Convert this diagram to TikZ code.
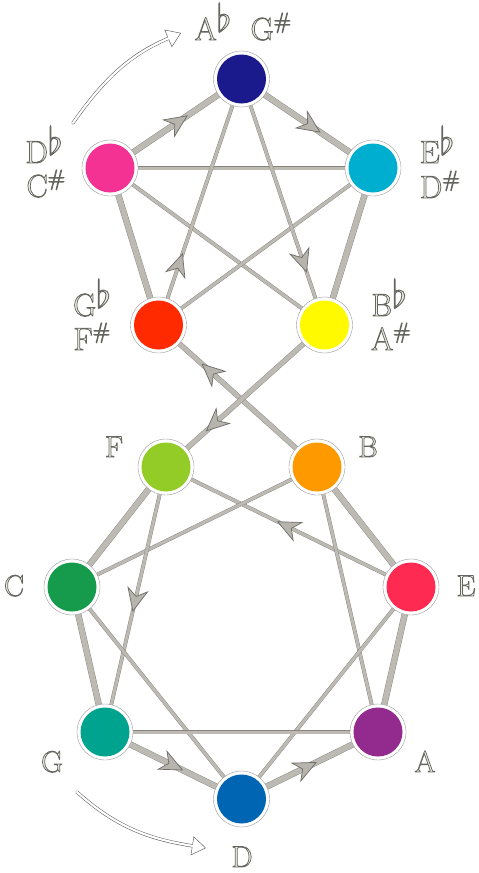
\documentclass[tikz,border=0pt]{standalone}
\usepackage{fix-cm}
\usepackage{graphicx}
\usetikzlibrary{arrows.meta,decorations.markings,backgrounds}
\definecolor{edgegray}{HTML}{BCBAB3}
\definecolor{edgedark}{HTML}{85847E}
\definecolor{headfill}{HTML}{B6B4AD}
\definecolor{headdark}{HTML}{6E6D68}
\definecolor{labfill}{HTML}{EDEDE6}
\definecolor{cAb}{HTML}{1A1A8C}
\definecolor{cDb}{HTML}{F43294}
\definecolor{cEb}{HTML}{00AECF}
\definecolor{cGb}{HTML}{FF2A00}
\definecolor{cBb}{HTML}{FFFA00}
\definecolor{cF}{HTML}{93CC26}
\definecolor{cB}{HTML}{FF9900}
\definecolor{cC}{HTML}{169B4C}
\definecolor{cE}{HTML}{FF2A52}
\definecolor{cG}{HTML}{00A38D}
\definecolor{cA}{HTML}{932A8D}
\definecolor{cD}{HTML}{0066B3}
\newcommand\outl[1]{\special{pdf:literal direct 2 Tr 0.75 w 0.40 0.40 0.38 RG}#1\special{pdf:literal direct 0 Tr}}
\newcommand\flt{\raisebox{0.26em}{\scalebox{1.2}{$\flat$}}}
\newcommand\shp{$^{\#}$}
\tikzset{
  notecirc/.style={circle, minimum size=56pt, inner sep=0pt, fill=white, draw=gray!80, line width=0.4pt,
    path picture={\fill[fill=#1] (path picture bounding box.center) circle (24.5pt);}},
  lab/.style={anchor=base, inner sep=0pt, text=labfill, font=\fontsize{30}{32}\selectfont},
  labbig/.style={lab, font=\fontsize{32}{34}\selectfont},
  ln/.style={draw=edgegray, line width=#1, preaction={draw=edgedark, line width=#1+0.8pt}},
  marr/.style={postaction={decorate, decoration={markings, mark=at position #1 with
    {\filldraw[fill=headfill, draw=headdark, line width=0.7pt, line join=miter]
      (1pt,0pt) -- (-21pt,10pt) -- (-14pt,0pt) -- (-21pt,-10pt) -- cycle;}}}},
  curvarr/.style={draw=white, line width=2.2pt, line cap=round, shorten >=12.5pt,
    preaction={draw=black!65, line width=3.2pt, line cap=round, shorten >=0pt,
      -{Triangle[length=14pt,width=19pt,fill=white,color=black!65,line width=0.45pt]}}}
}
\begin{document}
\begin{tikzpicture}[x=1pt,y=1pt]
\useasboundingbox (0,0) rectangle (479,-873);
% nodes
\node[notecirc=cAb] (Ab) at (241.5,-79) {};
\node[notecirc=cDb] (Db) at (110,-168) {};
\node[notecirc=cEb] (Eb) at (373,-168) {};
\node[notecirc=cGb] (Gb) at (158.5,-325) {};
\node[notecirc=cBb] (Bb) at (324.5,-325) {};
\node[notecirc=cF] (F) at (166,-467) {};
\node[notecirc=cB] (B) at (317,-467) {};
\node[notecirc=cC] (C) at (72,-587) {};
\node[notecirc=cE] (E) at (411,-587) {};
\node[notecirc=cG] (G) at (105,-732) {};
\node[notecirc=cA] (A) at (378,-732) {};
\node[notecirc=cD] (D) at (241.5,-799) {};
% labels
\node[labbig] (lAb) at (213,-40) {\outl{A\flt}};
\node[labbig] (lGs) at (271,-40) {\outl{G\shp}};
\node[labbig] (lDb) at (44,-163) {\outl{D\flt}};
\node[labbig] (lCs) at (46,-197) {\outl{C\shp}};
\node[labbig] (lEb) at (437,-163) {\outl{E\flt}};
\node[labbig] (lDs) at (440,-198) {\outl{D\shp}};
\node[labbig] (lGb) at (92,-316) {\outl{G\flt}};
\node[labbig] (lFs) at (92,-350) {\outl{F\shp}};
\node[labbig] (lBb) at (389,-316) {\outl{B\flt}};
\node[labbig] (lAs) at (391,-350) {\outl{A\shp}};
\node[lab] (lF) at (114,-457) {\outl{F}};
\node[lab] (lB) at (368,-457) {\outl{B}};
\node[lab] (lC) at (14,-596) {\outl{C}};
\node[lab] (lE) at (466,-596) {\outl{E}};
\node[lab] (lG) at (52,-772) {\outl{G}};
\node[lab] (lA) at (425,-772) {\outl{A}};
\node[lab] (lD) at (242,-867) {\outl{D}};
% curved arrows
\coordinate (ta1) at (73,-123);
\coordinate (ta2) at (181,-33);
\coordinate (ba1) at (77,-792);
\coordinate (ba2) at (206,-848);
\draw[curvarr] (ta1) to[out=55,in=203] (ta2);
\draw[curvarr] (ba1) to[out=-42,in=171] (ba2);
% edges
\begin{scope}[on background layer]
\fill[white] (0,0) rectangle (479,-873);
\draw[ln=3pt] (Db.center) -- (Eb.center);
\draw[ln=3pt] (Db.center) -- (Bb.center);
\draw[ln=3pt] (Eb.center) -- (Gb.center);
\draw[ln=3pt, marr=0.285] (Gb.center) -- (Ab.center);
\draw[ln=3pt, marr=0.78] (Ab.center) -- (Bb.center);
\draw[ln=5.5pt, marr=0.58] (Db.center) -- (Ab.center);
\draw[ln=5.5pt, marr=0.59] (Ab.center) -- (Eb.center);
\draw[ln=5.5pt] (Db.center) -- (Gb.center);
\draw[ln=5.5pt] (Eb.center) -- (Bb.center);
\draw[ln=4.5pt, marr=0.72] (B.center) -- (Gb.center);
\draw[ln=4.5pt, marr=0.74] (Bb.center) -- (F.center);
\draw[ln=3pt, marr=0.54] (E.center) -- (F.center);
\draw[ln=3pt] (B.center) -- (C.center);
\draw[ln=3pt, marr=0.54] (F.center) -- (G.center);
\draw[ln=3pt] (B.center) -- (A.center);
\draw[ln=3pt] (C.center) -- (D.center);
\draw[ln=3pt] (E.center) -- (D.center);
\draw[ln=3pt] (G.center) -- (A.center);
\draw[ln=5.5pt] (F.center) -- (C.center);
\draw[ln=5.5pt] (C.center) -- (G.center);
\draw[ln=5.5pt] (B.center) -- (E.center);
\draw[ln=5.5pt] (E.center) -- (A.center);
\draw[ln=5.5pt, marr=0.56] (G.center) -- (D.center);
\draw[ln=5.5pt, marr=0.54] (D.center) -- (A.center);
\end{scope}
\end{tikzpicture}
\end{document}
